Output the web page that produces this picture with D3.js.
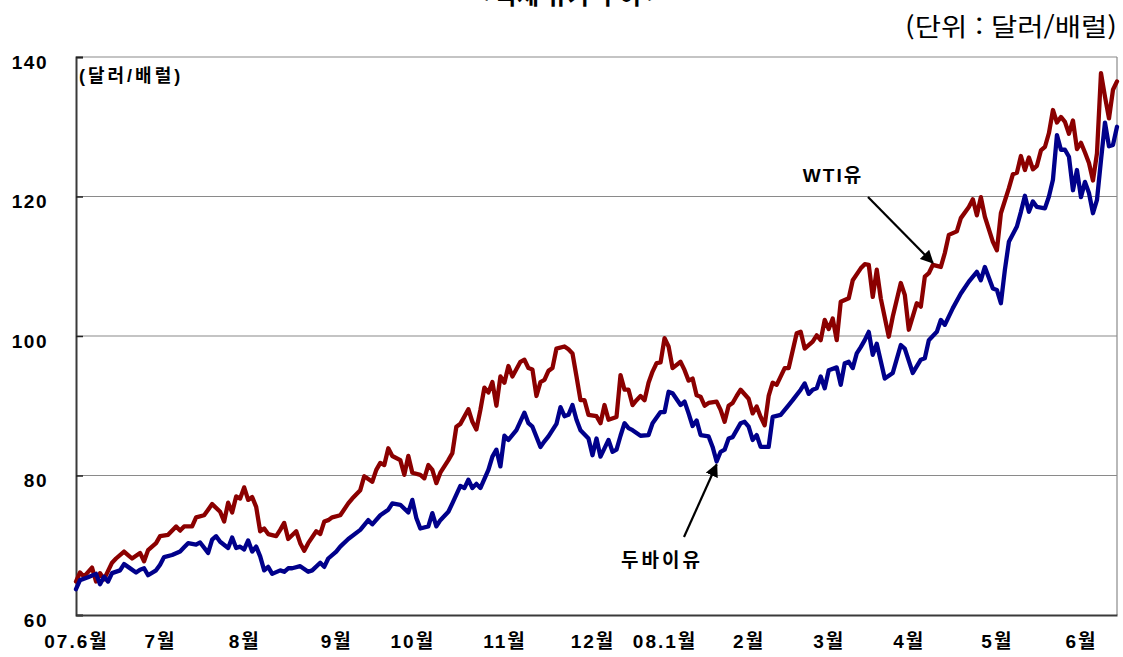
<!DOCTYPE html>
<html lang="ko">
<head>
<meta charset="UTF-8">
<title>국제 유가 추이</title>
<style>
  body { margin: 0; background: #fff; }
  svg { display: block; }
  .lbl { font-family: "Liberation Sans", "Noto Sans CJK KR", sans-serif; font-weight: bold; fill: #000; }
</style>
</head>
<body>
<script src="https://d3js.org/d3.v7.min.js"></script>
<script>
// trading-day index (0 = first day of Jun 2007) and price
var wtiDay = [0,1,2,4,5,6,7,9,10,12,13,14,16,17,18,20,21,23,25,26,27,29,30,32,33,34,36,37,38,39,40,41,42,43,44,45,46,47,48,50,51,52,53,55,56,57,58,60,61,62,63,64,66,68,69,71,72,74,75,76,77,78,79,81,82,83,84,86,87,88,89,90,91,93,94,95,96,98,99,100,101,102,103,104,105,106,107,108,109,111,112,113,114,115,116,117,118,119,120,122,123,124,125,126,127,128,130,131,132,133,135,136,137,138,139,140,141,142,143,144,145,146,147,148,149,151,152,153,154,155,156,157,158,160,161,162,163,164,165,166,168,169,170,171,172,173,174,175,177,178,180,181,182,184,185,186,187,188,189,190,191,193,194,196,197,198,199,200,201,203,204,206,207,208,210,211,212,213,214,216,217,218,220,221,223,224,225,226,227,229,230,231,233,234,235,236,237,238,239,240,241,242,243,244,245,246,247,248,249,250,251,252,253,254,255,256,257,258,259,260];
var wtiPrice = [64.8,66.1,65.5,66.8,64.8,66.0,65.1,67.5,68.1,69.1,68.6,68.1,68.9,67.7,69.3,70.3,71.3,71.5,72.7,72.1,72.7,72.7,74.0,74.3,75.1,75.9,74.8,73.4,76.1,74.7,77.0,76.7,78.3,76.5,76.9,75.5,72.0,72.4,71.6,71.3,72.2,73.2,70.9,72.0,70.3,69.2,70.3,72.0,71.6,73.4,73.6,74.0,74.3,76.0,76.7,77.9,79.9,79.1,80.8,81.8,81.5,83.9,82.8,82.2,80.1,82.8,80.4,80.1,79.6,81.5,80.8,78.9,80.4,82.2,83.2,87.0,87.4,89.5,87.7,86.6,89.4,92.6,91.9,93.4,90.0,94.2,93.3,95.7,94.2,96.3,96.6,95.4,95.2,91.4,93.4,93.7,95.0,95.4,98.2,98.5,98.1,97.5,94.2,90.8,90.8,88.7,88.5,87.5,90.1,88.0,88.4,94.4,92.3,92.3,90.1,90.8,91.4,90.8,93.3,94.9,96.1,96.2,99.7,98.5,95.4,96.3,95.1,93.6,93.9,91.5,91.3,90.0,90.4,90.6,89.4,87.7,90.0,90.4,91.4,92.3,91.0,88.9,89.9,88.4,87.2,91.4,93.3,93.0,95.4,95.4,100.4,100.6,98.2,99.2,100.1,99.4,102.3,101.0,102.5,99.4,104.9,105.4,108.0,109.7,110.3,110.2,105.6,109.5,105.4,99.9,102.8,107.6,105.9,100.9,104.7,104.2,108.5,109.0,110.2,109.9,111.9,114.5,115.0,116.9,118.5,119.6,117.3,119.9,117.1,113.5,112.3,117.6,121.2,123.2,123.4,125.8,123.8,125.6,123.9,124.4,126.6,127.1,129.1,132.4,130.6,131.4,130.7,129.0,130.9,126.8,127.7,126.3,124.8,122.3,126.2,137.7,134.3,131.2,135.3,136.5];

var dubaiDay = [0,1,3,5,6,7,8,9,11,12,13,15,16,17,18,20,21,22,24,26,27,28,30,31,33,34,35,36,38,39,40,41,42,43,44,45,46,47,48,49,51,52,53,54,56,58,59,61,62,63,65,66,68,71,73,74,76,78,79,81,83,84,85,86,88,89,90,91,93,94,96,97,98,99,100,101,103,104,105,106,107,108,110,112,113,114,116,117,118,120,121,122,123,124,125,126,128,129,130,131,133,134,135,136,137,138,139,141,143,144,146,147,148,149,151,152,153,154,155,156,158,159,160,161,162,163,164,166,167,168,169,170,171,173,174,176,178,179,181,182,183,184,185,186,187,188,190,191,192,193,194,195,196,197,198,199,200,202,204,206,207,209,211,212,213,215,216,217,219,221,223,225,226,227,229,230,231,232,233,235,236,237,238,239,240,242,243,244,245,246,247,248,249,250,251,252,253,254,255,256,257,258,259,260];
var dubaiPrice = [63.7,65.0,65.4,65.9,64.4,65.5,64.8,66.0,66.4,67.3,66.9,66.1,66.5,66.7,65.7,66.4,67.2,68.3,68.6,69.1,69.7,70.3,70.1,70.4,68.9,70.8,71.3,70.5,69.6,71.1,69.6,69.8,69.4,70.7,69.1,69.8,68.4,66.4,66.9,65.9,66.4,66.2,66.7,66.7,67.0,66.2,66.4,67.5,66.9,68.1,69.1,69.8,70.9,72.2,73.6,73.0,74.3,75.1,76.0,75.8,74.7,76.5,73.9,72.4,72.7,74.6,72.7,73.6,74.8,76.0,78.5,78.2,79.4,78.2,78.8,78.2,80.8,82.7,83.7,81.3,85.7,85.1,86.5,89.0,87.5,87.0,84.1,84.9,85.6,87.4,89.8,88.5,88.7,90.1,88.0,86.5,85.3,82.9,85.3,82.7,85.1,83.4,83.7,85.7,87.5,86.8,86.5,85.7,85.8,87.5,89.1,89.1,92.0,91.8,90.1,90.6,88.9,87.1,87.9,85.8,85.6,84.1,82.0,83.4,83.7,85.3,85.5,87.5,87.7,87.0,85.1,85.8,84.1,84.1,88.4,88.7,90.1,90.8,92.3,93.2,91.7,92.3,92.5,94.2,92.5,95.1,95.5,93.0,96.1,96.3,95.4,97.5,98.4,99.4,100.6,97.3,98.9,93.9,94.7,98.7,98.2,94.7,96.6,96.8,99.4,100.6,102.3,101.6,104.0,106.1,107.8,109.2,108.0,109.9,106.8,106.6,104.7,109.5,113.5,115.7,117.8,120.1,117.8,119.3,118.5,118.3,120.0,122.4,128.8,126.7,126.7,125.7,120.9,123.8,119.9,122.1,120.5,117.6,119.5,125.2,130.6,127.2,127.4,130.0];

// month labels and the trading-day index where each month starts
var monthLabels = ["07.6월","7월","8월","9월","10월","11월","12월","08.1월","2월","3월","4월","5월","6월"];
var monthStart  = [0, 21, 42, 65, 84, 107, 129, 147, 168, 188, 208, 230, 251];
var yTicks = [60, 80, 100, 120, 140];
var lastDay = 260;

var W = 1123, H = 657;
var plot = { left: 76, right: 1117, top: 57, bottom: 615 };

var svg = d3.select("body").append("svg")
  .attr("width", W)
  .attr("height", H);

var x = d3.scaleLinear().domain([0, lastDay]).range([plot.left, plot.right]);
var y = d3.scaleLinear().domain([60, 140]).range([plot.bottom, plot.top]);

// title (cut off at the top in the original)
svg.append("text")
  .attr("x", 568).attr("y", 4)
  .attr("text-anchor", "middle")
  .style("font-family", "'Noto Sans CJK KR', sans-serif")
  .style("font-size", "24px")
  .style("font-weight", "bold")
  .text("< 국제 유가 추이 >");

svg.append("text")
  .attr("x", 1117).attr("y", 36)
  .attr("text-anchor", "end")
  .attr("textLength", 212)
  .attr("lengthAdjust", "spacingAndGlyphs")
  .style("font-family", "'Noto Sans CJK KR', sans-serif")
  .style("font-size", "25px")
  .text("(단위 : 달러/배럴)");

// grid lines
svg.append("g").selectAll("line")
  .data(yTicks.slice(1))
  .join("line")
  .attr("x1", plot.left).attr("x2", plot.right)
  .attr("y1", function(d) { return y(d); })
  .attr("y2", function(d) { return y(d); })
  .attr("stroke", "#8a8a8a")
  .attr("stroke-width", 1.2);

// right border
svg.append("line")
  .attr("x1", plot.right).attr("x2", plot.right)
  .attr("y1", plot.top).attr("y2", plot.bottom)
  .attr("stroke", "#8a8a8a").attr("stroke-width", 1.2);

// y axis
var yAxis = svg.append("g")
  .attr("transform", "translate(" + plot.left + ",0)")
  .call(d3.axisLeft(y).tickValues(yTicks).tickSize(-7).tickPadding(28));
yAxis.select(".domain").attr("stroke", "#3a3a3a").attr("stroke-width", 2);
yAxis.selectAll(".tick line").attr("stroke", "#222").attr("stroke-width", 1.5);
yAxis.selectAll(".tick text")
  .attr("class", "lbl")
  .attr("dy", "0.6em")
  .style("font-size", "19px")
  .style("letter-spacing", "1.5px");

// x axis
var xAxis = svg.append("g")
  .attr("transform", "translate(0," + plot.bottom + ")")
  .call(d3.axisBottom(x).tickValues(monthStart).tickSize(0).tickPadding(20)
    .tickFormat(function(d, i) { return monthLabels[i]; }));
xAxis.select(".domain").attr("stroke", "#3a3a3a").attr("stroke-width", 2);
xAxis.selectAll(".tick text")
  .attr("class", "lbl")
  .style("font-size", "19px")
  .style("letter-spacing", "2px");

svg.append("text")
  .attr("class", "lbl")
  .attr("x", 79).attr("y", 82)
  .style("font-size", "18px")
  .style("letter-spacing", "3px")
  .text("(달러/배럴)");

// series
var line = d3.line()
  .x(function(d) { return x(d[0]); })
  .y(function(d) { return y(d[1]); });

var series = [
  { name: "WTI유", days: wtiDay, values: wtiPrice, color: "#8b0000" },
  { name: "두바이유", days: dubaiDay, values: dubaiPrice, color: "#00008b" }
];

svg.append("g").selectAll("path")
  .data(series)
  .join("path")
  .attr("d", function(s) { return line(d3.zip(s.days, s.values)); })
  .attr("fill", "none")
  .attr("stroke", function(s) { return s.color; })
  .attr("stroke-width", 4.3)
  .attr("stroke-linejoin", "round")
  .attr("stroke-linecap", "round");

// annotations
svg.append("defs").append("marker")
  .attr("id", "arrow")
  .attr("viewBox", "0 0 10 10")
  .attr("refX", 9).attr("refY", 5)
  .attr("markerWidth", 6).attr("markerHeight", 6)
  .attr("orient", "auto")
  .append("path")
  .attr("d", "M0,0 L10,5 L0,10 z")
  .attr("fill", "#000");

svg.append("text")
  .attr("class", "lbl")
  .attr("x", 833).attr("y", 182)
  .attr("text-anchor", "middle")
  .style("font-size", "19px")
  .style("letter-spacing", "2px")
  .text("WTI유");

svg.append("line")
  .attr("x1", 868).attr("y1", 197)
  .attr("x2", x(214)).attr("y2", y(110.2) - 2)
  .attr("stroke", "#000").attr("stroke-width", 2.2)
  .attr("marker-end", "url(#arrow)");

svg.append("text")
  .attr("class", "lbl")
  .attr("x", 662).attr("y", 567)
  .attr("text-anchor", "middle")
  .style("font-size", "19px")
  .style("letter-spacing", "3px")
  .text("두바이유");

svg.append("line")
  .attr("x1", 684).attr("y1", 537)
  .attr("x2", x(160)).attr("y2", y(82.0) + 3)
  .attr("stroke", "#000").attr("stroke-width", 2.2)
  .attr("marker-end", "url(#arrow)");
</script>
</body>
</html>
